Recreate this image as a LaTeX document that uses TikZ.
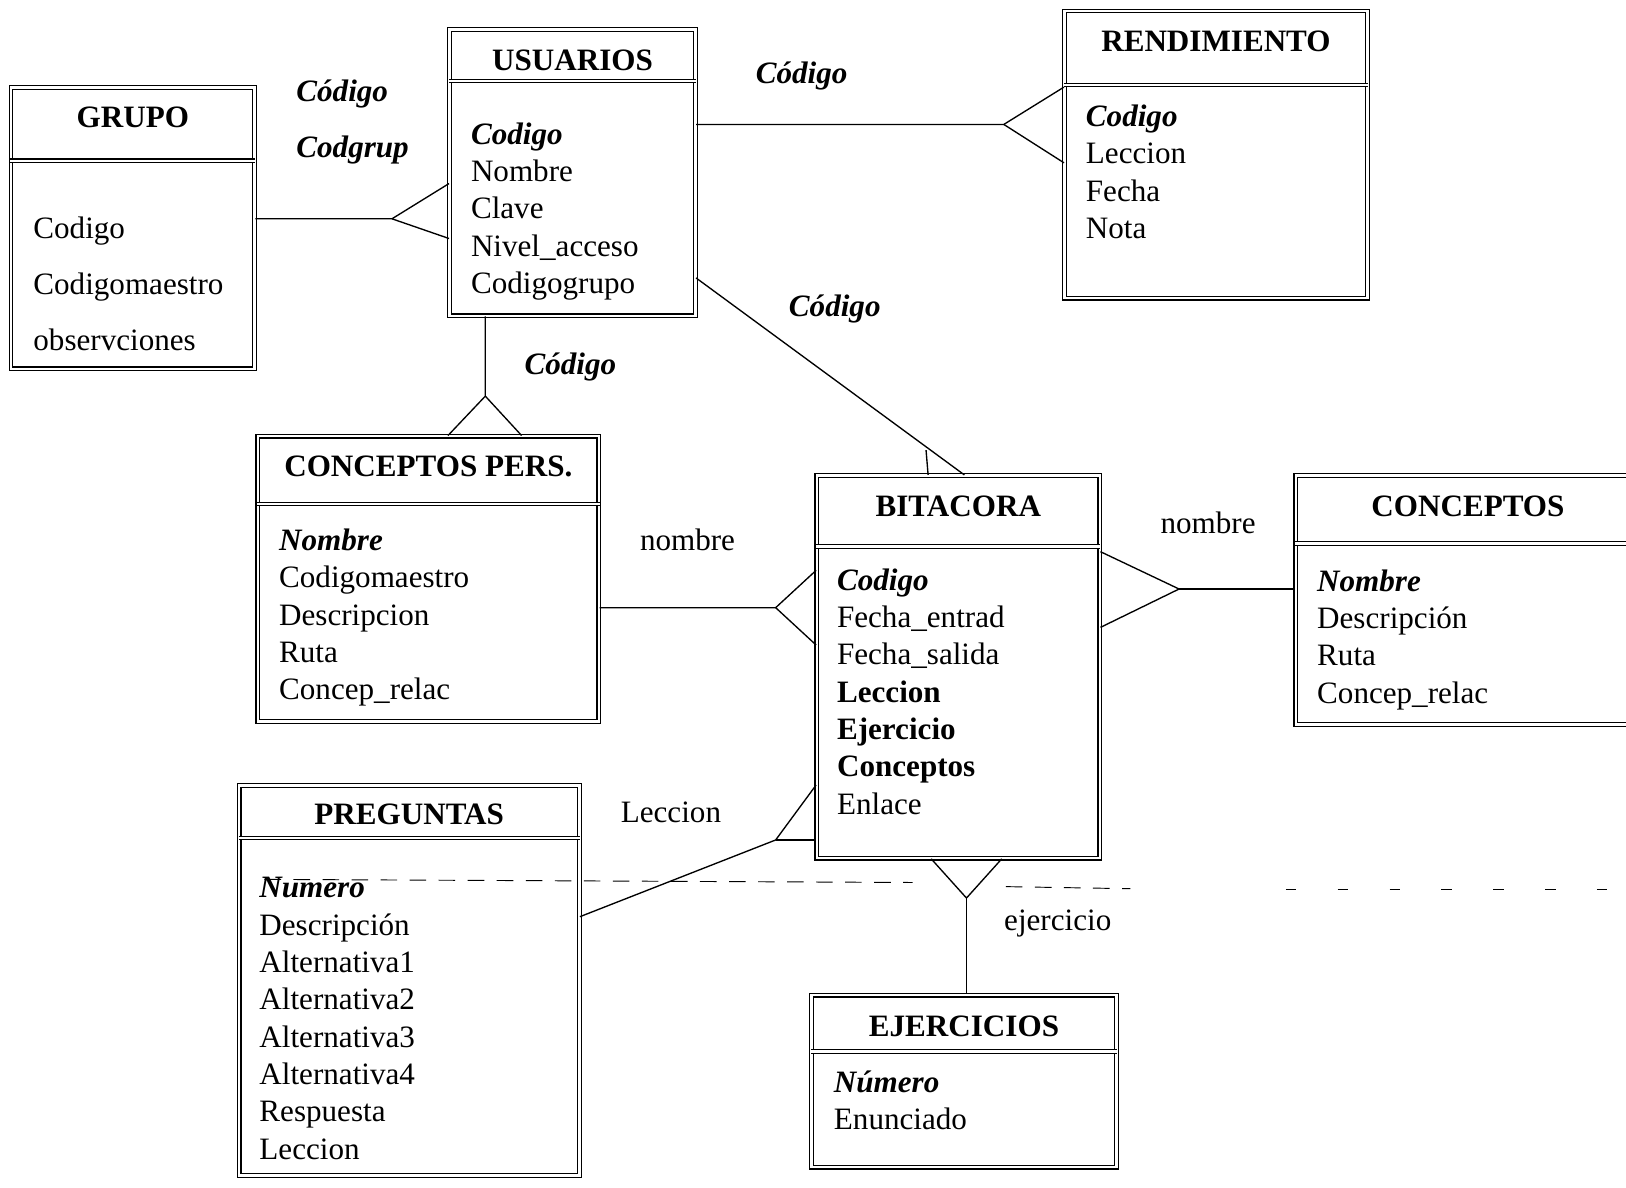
\documentclass[tikz,border=0pt]{standalone}
\usepackage{fontspec}
\setmainfont{Liberation Serif}
\usetikzlibrary{positioning}

\begin{document}
\begin{tikzpicture}[x=1pt,y=-1pt,
  font=\fontsize{30}{36}\selectfont,
  ent/.style={draw,line width=1.2pt,double,double distance=2.4pt,
              anchor=north west,inner sep=0pt},
  sep/.style={line width=1.1pt,double,double distance=2.2pt},
  ttl/.style={font=\fontsize{30}{36}\selectfont\bfseries},
  att/.style={anchor=north west,align=left,inner sep=0pt},
  ln/.style={line width=1.3pt},
  lbl/.style={font=\fontsize{30}{36}\selectfont\bfseries\itshape},
  rel/.style={font=\fontsize{30}{36}\selectfont},
  fold/.style={line width=0.9pt,dash pattern=on 16pt off 12pt}]

\clip (0,0) rectangle (1568,1145);

% tables
\node[ent,minimum width=235pt,minimum height=271pt] (grupo) at (10,84) {};
\node[ent,minimum width=237pt,minimum height=276pt] (usuarios) at (433,28) {};
\node[ent,minimum width=292pt,minimum height=277pt] (rendim) at (1026,10) {};
\node[ent,minimum width=329pt,minimum height=275pt] (cpers) at (248,420) {};
\node[ent,minimum width=273pt,minimum height=369pt] (bitacora) at (787,458) {};
\node[ent,minimum width=332pt,minimum height=240pt] (conceptos) at (1249,458) {};
\node[ent,minimum width=328pt,minimum height=376pt] (preguntas) at (230,757) {};
\node[ent,minimum width=294pt,minimum height=166pt] (ejercicios) at (782,959) {};

% header rules
\draw[sep] (grupo.west |- 0,155) -- (grupo.east |- 0,155);
\draw[sep] (usuarios.west |- 0,78) -- (usuarios.east |- 0,78);
\draw[sep] (rendim.west |- 0,82) -- (rendim.east |- 0,82);
\draw[sep] (cpers.west |- 0,486) -- (cpers.east |- 0,486);
\draw[sep] (bitacora.west |- 0,527) -- (bitacora.east |- 0,527);
\draw[sep] (conceptos.west |- 0,524) -- (conceptos.east |- 0,524);
\draw[sep] (preguntas.west |- 0,808) -- (preguntas.east |- 0,808);
\draw[sep] (ejercicios.west |- 0,1014) -- (ejercicios.east |- 0,1014);

% titles
\node[ttl] (tgrupo) at (grupo.north |- 0,113) {GRUPO};
\node[ttl] (tusuarios) at (usuarios.north |- 0,58) {USUARIOS};
\node[ttl] (trendim) at (rendim.north |- 0,40) {RENDIMIENTO};
\node[ttl] (tcpers) at (cpers.north |- 0,450) {CONCEPTOS PERS.};
\node[ttl] (tbitacora) at (bitacora.north |- 0,488) {BITACORA};
\node[ttl] (tconceptos) at (conceptos.north |- 0,488) {CONCEPTOS};
\node[ttl] (tpreguntas) at (preguntas.north |- 0,785) {PREGUNTAS};
\node[ttl] (tejercicios) at (ejercicios.north |- 0,990) {EJERCICIOS};

% fields
\node[att] (fgrupo) at (32,209)
  {Codigo\\[18pt] Codigomaestro\\[18pt] observciones};
\node[att] (fusuarios) at (454,118)
  {\textbf{\textit{Codigo}}\\ Nombre\\ Clave\\ Nivel\_acceso\\ Codigogrupo};
\node[att] (frendim) at (1047,101)
  {\textbf{\textit{Codigo}}\\ Leccion\\ Fecha\\ Nota};
\node[att] (fcpers) at (269,510)
  {\textbf{\textit{Nombre}}\\ Codigomaestro\\ Descripcion\\ Ruta\\ Concep\_relac};
\node[att] (fbitacora) at (807,548)
  {\textbf{\textit{Codigo}}\\ Fecha\_entrad\\ Fecha\_salida\\ \textbf{Leccion}\\
   \textbf{Ejercicio}\\ \textbf{Conceptos}\\ Enlace};
\node[att] (fconceptos) at (1270,549)
  {\textbf{\textit{Nombre}}\\ Descripción\\ Ruta\\ Concep\_relac};
\node[att] (fpreguntas) at (250,846)
  {\textbf{\textit{Numero}}\\ Descripción\\ Alternativa1\\ Alternativa2\\
   Alternativa3\\ Alternativa4\\ Respuesta\\ Leccion};
\node[att] (fejercicios) at (804,1032)
  {\textbf{\textit{Número}}\\ Enunciado};

% relationships
\coordinate (gu) at (378,211);
\draw[ln] (grupo.east |- gu) -- (gu) -- (usuarios.west |- 0,177);
\draw[ln] (gu) -- (usuarios.west |- 0,230);

\coordinate (ur) at (968,120);
\draw[ln] (usuarios.east |- ur) -- (ur) -- (rendim.west |- 0,84);
\draw[ln] (ur) -- (rendim.west |- 0,157);

\coordinate (uc) at (468,382);
\draw[ln] (usuarios.south -| uc) -- (uc) -- (cpers.north -| 432,0);
\draw[ln] (uc) -- (cpers.north -| 503,0);

\draw[ln] (usuarios.east |- 0,268) -- (bitacora.north -| 930,0);
\draw[ln] (bitacora.north -| 895,0) -- ++(-2,-24);

\coordinate (cb) at (748,586);
\draw[ln] (cpers.east |- cb) -- (cb) -- (bitacora.west |- 0,550);
\draw[ln] (cb) -- (bitacora.west |- 0,622);

\coordinate (bc) at (1137,568);
\draw[ln] (bitacora.east |- 0,532) -- (bc) -- (bitacora.east |- 0,605);
\draw[ln] (bc) -- (conceptos.west |- bc);

\coordinate (bp) at (748,810);
\draw[ln] (preguntas.east |- 0,884) -- (bp) -- (bitacora.west |- 0,757);
\draw[ln] (bp) -- (bitacora.west |- bp);

\coordinate (be) at (932,866);
\draw[ln] (bitacora.south -| 898,0) -- (be) -- (bitacora.south -| 966,0);
\draw[ln] (be) -- (ejercicios.north -| be);

% relationship labels
\node[lbl] (lgu1) at (330,91) {Código};
\node[lbl] (lgu2) at (340,145) {Codgrup};
\node[lbl] (lur) at (773,73) {Código};
\node[lbl] (luc) at (550,354) {Código};
\node[lbl] (lub) at (805,298) {Código};
\node[rel] (lcb) at (663,521) {nombre};
\node[rel] (lbc) at (1165,504) {nombre};
\node[rel] (lbp) at (647,783) {Leccion};
\node[rel] (lbe) at (1020,891) {ejercicio};

% fold line across the sheet
\draw[fold] (255,848) -- (880,851);
\draw[fold] (970,855) -- (1090,857);
\draw[fold,dash pattern=on 10pt off 40pt] (1240,858) -- (1568,858);

\end{tikzpicture}
\end{document}
